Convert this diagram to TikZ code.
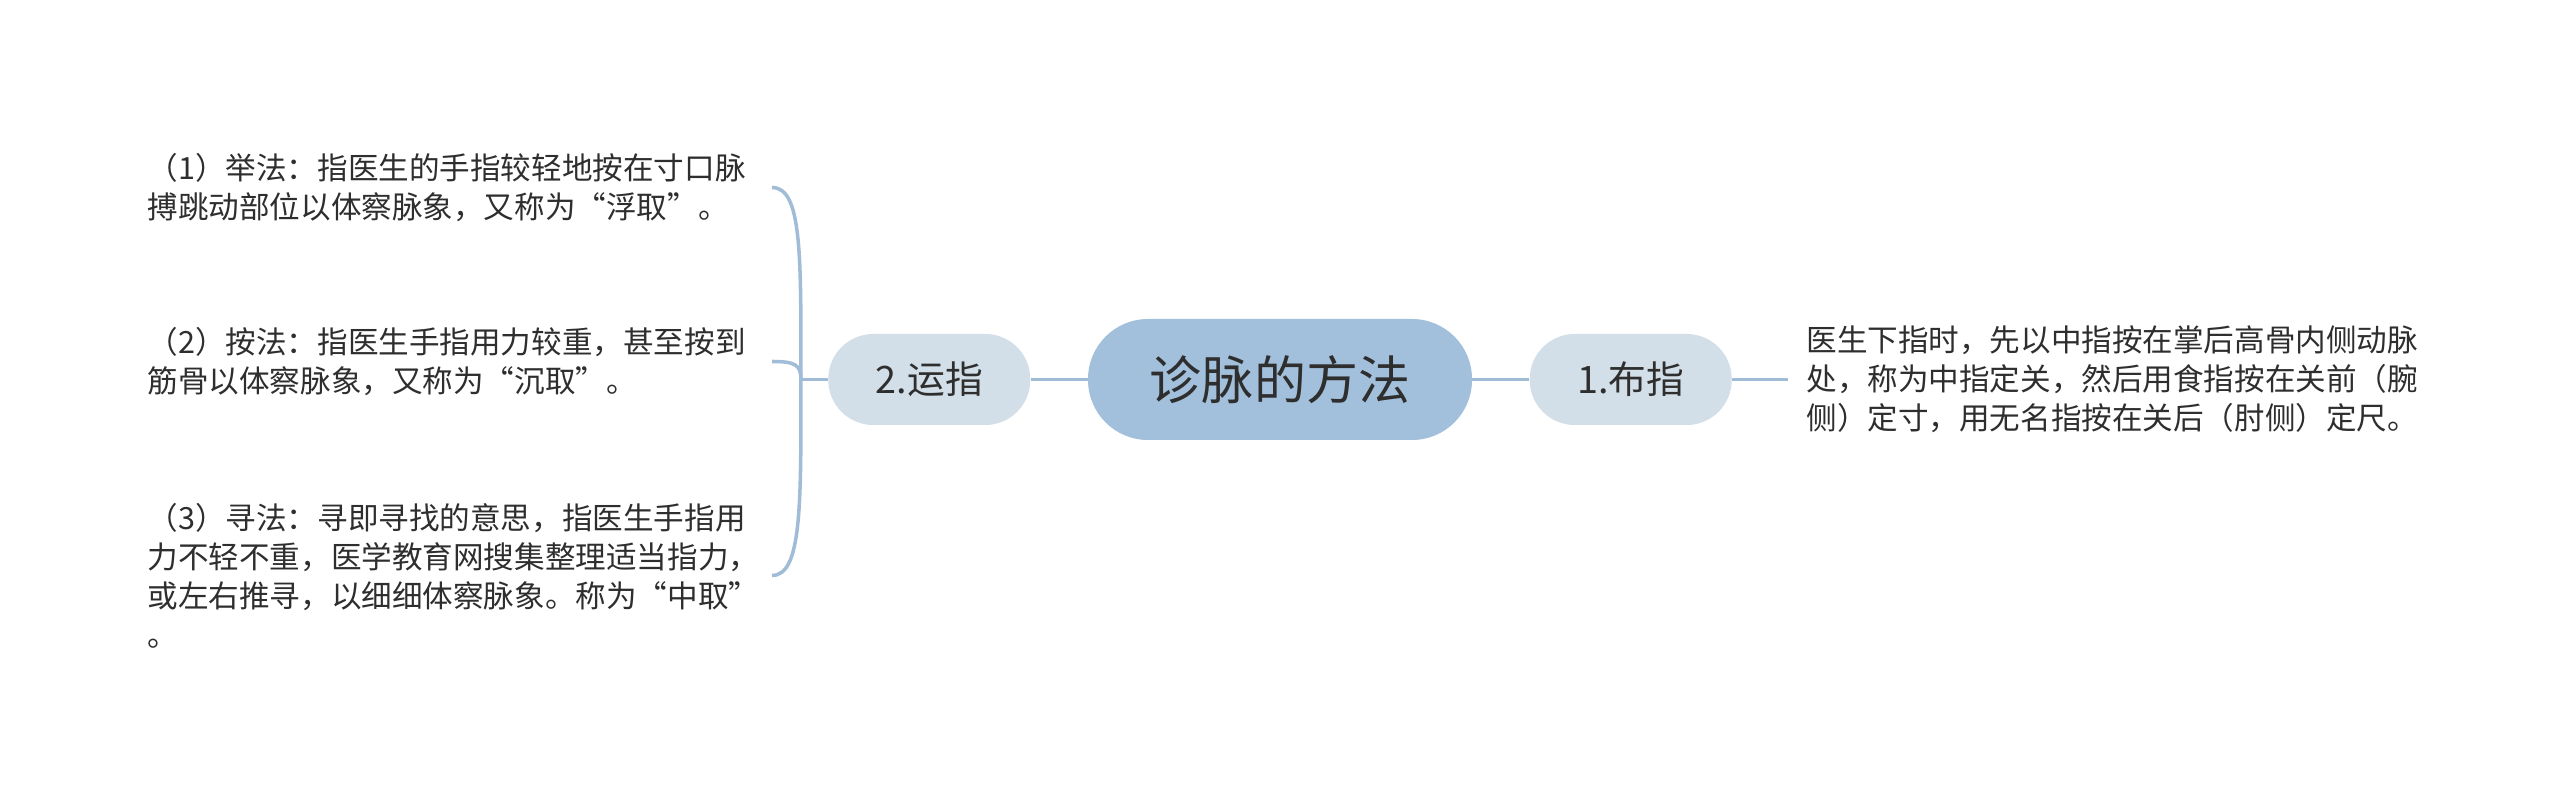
\documentclass[tikz,border=0pt]{standalone}
\usepackage{fontspec}
\setmainfont{Noto Sans CJK SC}
\usetikzlibrary{positioning}
\definecolor{rootbg}{HTML}{A2C0DC}
\definecolor{branchbg}{HTML}{D3DFE8}
\definecolor{link}{HTML}{A0BCD6}
\definecolor{ink}{HTML}{2E2E2E}
\tikzset{
  box/.style={rounded corners=0.9cm, align=center, text=ink, inner sep=0pt},
  rt/.style={box, fill=rootbg, minimum width=7.68cm, minimum height=2.42cm, rounded corners=1.2cm, font=\fontsize{29.6}{36}\selectfont},
  br/.style={box, fill=branchbg, minimum width=4.04cm, minimum height=1.82cm, font=\fontsize{21.5}{26}\selectfont},
  lf/.style={align=left, text=ink, inner xsep=0.1cm, inner ysep=0pt, font=\fontsize{17.4}{22.2}\selectfont},
  ln/.style={draw=link, line width=2pt},
}

\begin{document}
\begin{tikzpicture}[node distance=1.14cm]
    \useasboundingbox[fill=white] (0,0) rectangle (51.2,15.96);
    \node[rt] (root) at (25.6,8.37) {诊脉的方法};
    % right side
    \node[br, right=of root] (b1) {1.布指};
    \node[lf, right=1.12cm of b1, inner xsep=0.36cm] (d1) {医生下指时，先以中指按在掌后高骨内侧动脉\\处，称为中指定关，然后用食指按在关前（腕\\侧）定寸，用无名指按在关后（肘侧）定尺。};
    % left side
    \node[br, left=of root] (b2) {2.运指};
    \coordinate[left=0.54cm of b2] (j);
    \node[lf, text width=12.38cm, anchor=east] (t1) at (15.44,12.21) {（1）举法：指医生的手指较轻地按在寸口脉\\搏跳动部位以体察脉象，又称为“浮取”。};
    \node[lf, text width=12.38cm, anchor=east] (t2) at (15.44,8.73) {（2）按法：指医生手指用力较重，甚至按到\\筋骨以体察脉象，又称为“沉取”。};
    \node[lf, text width=12.38cm, anchor=east] (t3) at (15.44,4.45) {（3）寻法：寻即寻找的意思，指医生手指用\\力不轻不重，医学教育网搜集整理适当指力，\\或左右推寻，以细细体察脉象。称为“中取”\\。};
    \draw[ln] (root) -- (b1); \draw[ln] (b1) -- (d1);
    \draw[ln] (root) -- (b2); \draw[ln] (b2) -- (j);
    \draw[ln] (j) .. controls +(0,2.5) and +(0.6,0) .. (t1.east);
    \draw[ln] (j) .. controls +(0,0.3) and +(0.45,0) .. (t2.east);
    \draw[ln] (j) .. controls +(0,-2.5) and +(0.6,0) .. (t3.east);
  \end{tikzpicture}
\end{document}
